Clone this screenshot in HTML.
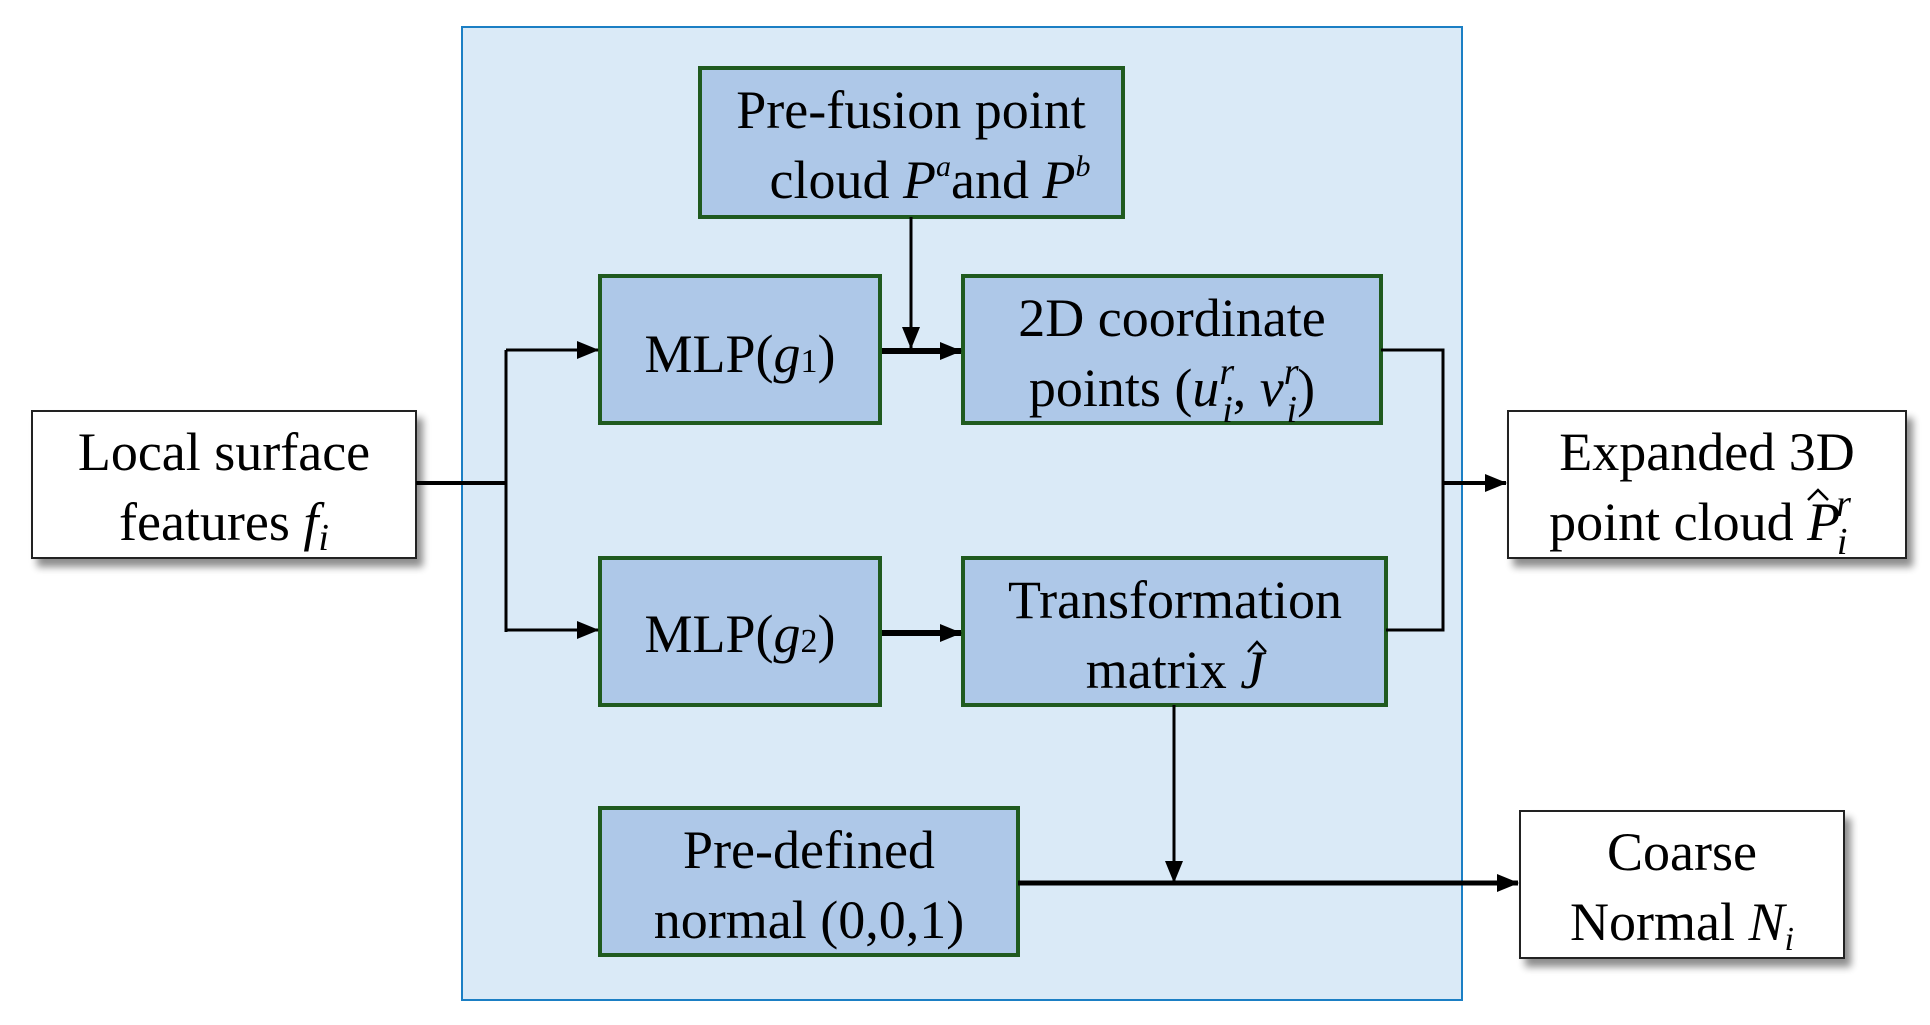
<!DOCTYPE html>
<html><head><meta charset="utf-8"><style>
html,body{margin:0;padding:0;background:#fff;}
svg{display:block;}
text{font-family:"Liberation Serif","DejaVu Serif",serif;font-size:54px;fill:#000;}
.i{font-style:italic;}
</style></head><body>
<svg width="1930" height="1025" viewBox="0 0 1930 1025" xmlns="http://www.w3.org/2000/svg" font-family="Liberation Serif, DejaVu Serif, serif">
<defs>
<filter id="sh" x="-10%" y="-10%" width="130%" height="140%">
<feGaussianBlur in="SourceAlpha" stdDeviation="4"/>
<feOffset dx="6" dy="8" result="b"/>
<feComponentTransfer><feFuncA type="linear" slope="0.45"/></feComponentTransfer>
<feMerge><feMergeNode/><feMergeNode in="SourceGraphic"/></feMerge>
</filter>
<marker id="ar2" markerWidth="22" markerHeight="18" refX="21" refY="9" orient="auto" markerUnits="userSpaceOnUse" viewBox="0 0 22 18">
<path d="M0,0 L22,9 L0,18 z" fill="#000"/>
</marker>
</defs>
<rect x="462" y="27" width="1000" height="973" fill="#daeaf7" stroke="#1b7fc4" stroke-width="2"/>

<g filter="url(#sh)">
<rect x="32" y="411" width="384" height="147" fill="#fff" stroke="#222" stroke-width="2"/>
<rect x="1508" y="411" width="398" height="147" fill="#fff" stroke="#222" stroke-width="2"/>
<rect x="1520" y="811" width="324" height="147" fill="#fff" stroke="#222" stroke-width="2"/>
</g>

<g fill="#aec8e8" stroke="#1f5a1f" stroke-width="4">
<rect x="700" y="68" width="423" height="149"/>
<rect x="600" y="276" width="280" height="147"/>
<rect x="963" y="276" width="418" height="147"/>
<rect x="600" y="558" width="280" height="147"/>
<rect x="963" y="558" width="423" height="147"/>
<rect x="600" y="808" width="418" height="147"/>
</g>

<g stroke="#000" fill="none">
<path d="M416,483 H506" stroke-width="4"/>
<path d="M506,350 V632" stroke-width="3"/>
<path d="M506,350 H598" stroke-width="3" marker-end="url(#ar2)"/>
<path d="M506,630 H598" stroke-width="3" marker-end="url(#ar2)"/>
<path d="M911,217 V348" stroke-width="3" marker-end="url(#ar2)"/>
<path d="M882,351 H961" stroke-width="6" marker-end="url(#ar2)"/>
<path d="M882,633 H961" stroke-width="6" marker-end="url(#ar2)"/>
<path d="M1381,350 H1443 V630 H1386" stroke-width="3"/>
<path d="M1443,483 H1506" stroke-width="4" marker-end="url(#ar2)"/>
<path d="M1174,705 V882" stroke-width="3" marker-end="url(#ar2)"/>
<path d="M1018,883 H1518" stroke-width="5" marker-end="url(#ar2)"/>
</g>

<text x="224" y="470" text-anchor="middle">Local surface</text>
<text x="224" y="540" text-anchor="middle">features <tspan class="i">f</tspan><tspan class="i" font-size="38" dy="10">i</tspan></text>

<text x="1707" y="470" text-anchor="middle">Expanded 3D</text>
<text x="1700" y="540" text-anchor="middle">point cloud <tspan class="i">P</tspan><tspan class="i" font-size="38" dx="-4" dy="-24">r</tspan><tspan class="i" font-size="38" dx="-14" dy="38">i</tspan></text>
<path d="M1808,500 L1818,490 L1828,500" stroke="#000" stroke-width="2.5" fill="none"/>

<text x="1682" y="870" text-anchor="middle">Coarse</text>
<text x="1682" y="940" text-anchor="middle">Normal <tspan class="i">N</tspan><tspan class="i" font-size="34" dy="10">i</tspan></text>

<text x="911" y="128" text-anchor="middle">Pre-fusion point</text>
<text x="930" y="198" text-anchor="middle">cloud <tspan class="i">P</tspan><tspan class="i" font-size="30" dy="-22">a</tspan><tspan dy="22">and </tspan><tspan class="i">P</tspan><tspan class="i" font-size="30" dy="-22">b</tspan></text>

<text x="740" y="372" text-anchor="middle">MLP(<tspan class="i">g</tspan><tspan font-size="34">1</tspan>)</text>
<text x="740" y="652" text-anchor="middle">MLP(<tspan class="i">g</tspan><tspan font-size="34">2</tspan>)</text>

<text x="1172" y="336" text-anchor="middle">2D coordinate</text>
<text x="1172" y="406" text-anchor="middle">points (<tspan class="i">u</tspan><tspan class="i" font-size="38" dy="-22">r</tspan><tspan class="i" font-size="38" dx="-12" dy="38">i</tspan><tspan dy="-16">, </tspan><tspan class="i">v</tspan><tspan class="i" font-size="38" dy="-22">r</tspan><tspan class="i" font-size="38" dx="-12" dy="38">i</tspan><tspan dy="-16">)</tspan></text>

<text x="1175" y="618" text-anchor="middle">Transformation</text>
<text x="1175" y="688" text-anchor="middle">matrix  <tspan class="i">J</tspan></text>
<path d="M1248,652 L1257,642 L1266,652" stroke="#000" stroke-width="2.5" fill="none"/>

<text x="809" y="868" text-anchor="middle">Pre-defined</text>
<text x="809" y="938" text-anchor="middle">normal (0,0,1)</text>
</svg>
</body></html>
